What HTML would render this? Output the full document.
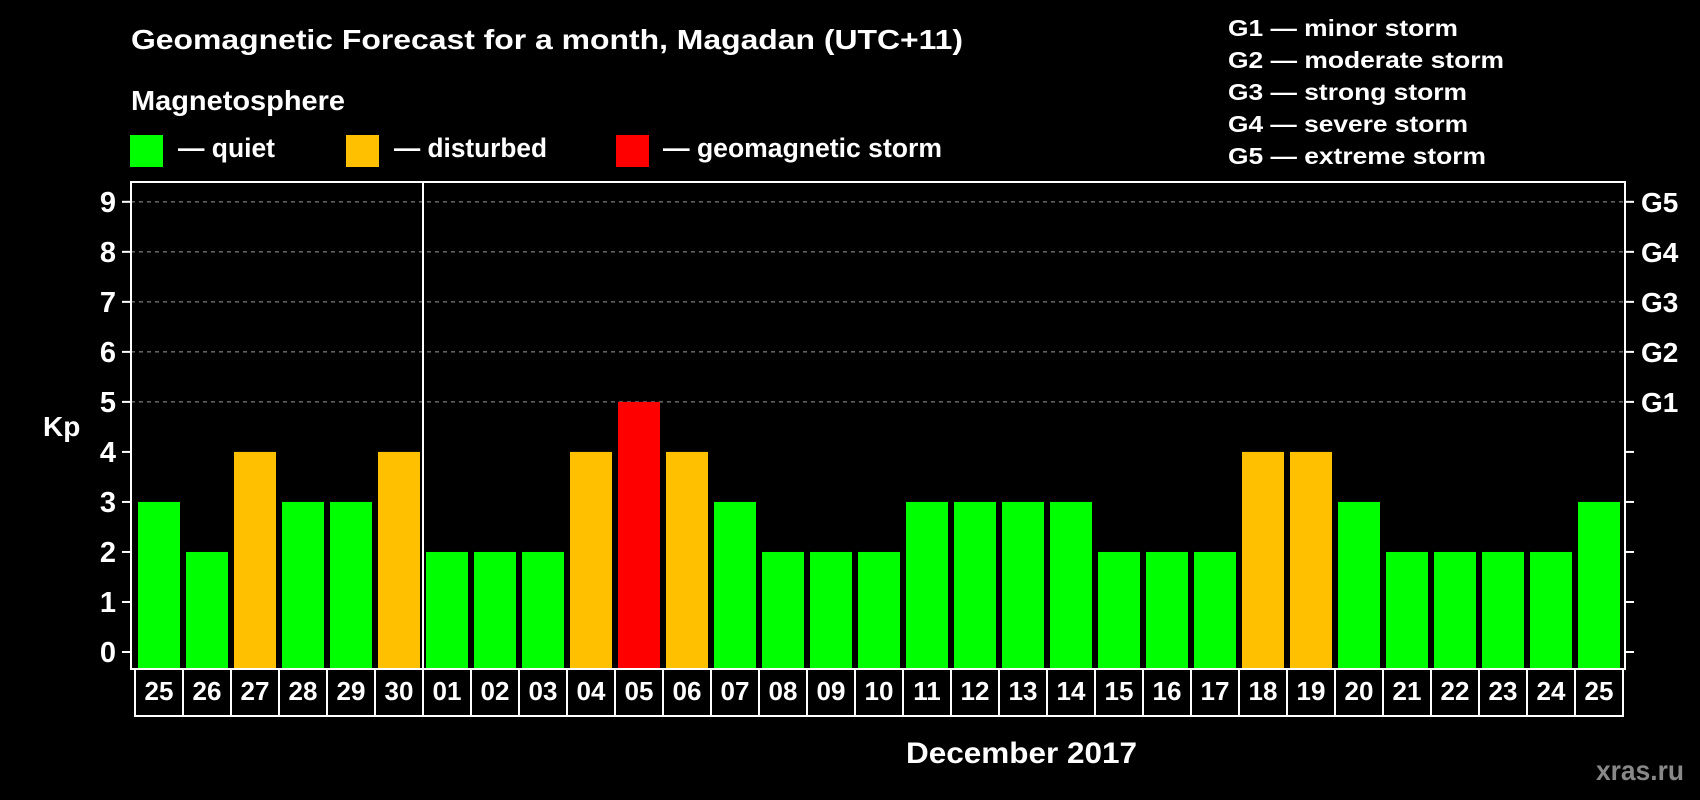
<!DOCTYPE html>
<html><head><meta charset="utf-8"><style>
html,body{margin:0;padding:0;background:#000;}
svg{display:block;font-family:"Liberation Sans",Arial,sans-serif;font-weight:bold;}
</style></head><body>
<svg id="chart" width="1700" height="800" viewBox="0 0 1700 800" xmlns="http://www.w3.org/2000/svg">
<rect width="1700" height="800" fill="#000"/>
<text x="131" y="49" font-size="28" fill="#fff" textLength="832" lengthAdjust="spacingAndGlyphs">Geomagnetic Forecast for a month, Magadan (UTC+11)</text>
<text x="131" y="110" font-size="28" fill="#fff" textLength="214" lengthAdjust="spacingAndGlyphs">Magnetosphere</text>
<g><rect x="130" y="135" width="33" height="32" fill="#00ff00"/><text x="178" y="157" font-size="27" fill="#fff" textLength="97" lengthAdjust="spacingAndGlyphs">— quiet</text></g>
<g><rect x="346" y="135" width="33" height="32" fill="#ffc000"/><text x="394" y="157" font-size="27" fill="#fff" textLength="153" lengthAdjust="spacingAndGlyphs">— disturbed</text></g>
<g><rect x="616" y="135" width="33" height="32" fill="#ff0000"/><text x="663" y="157" font-size="27" fill="#fff" textLength="279" lengthAdjust="spacingAndGlyphs">— geomagnetic storm</text></g>
<g font-size="23" fill="#fff">
<text x="1228" y="36" textLength="230" lengthAdjust="spacingAndGlyphs">G1 — minor storm</text>
<text x="1228" y="68" textLength="276" lengthAdjust="spacingAndGlyphs">G2 — moderate storm</text>
<text x="1228" y="100" textLength="239" lengthAdjust="spacingAndGlyphs">G3 — strong storm</text>
<text x="1228" y="132" textLength="240" lengthAdjust="spacingAndGlyphs">G4 — severe storm</text>
<text x="1228" y="164" textLength="258" lengthAdjust="spacingAndGlyphs">G5 — extreme storm</text>
</g>
<text x="43" y="436" font-size="28" fill="#fff">Kp</text>
<text x="906" y="763" font-size="30" fill="#fff" textLength="231" lengthAdjust="spacingAndGlyphs">December 2017</text>
<text x="1596" y="780" font-size="28" fill="#888" textLength="88" lengthAdjust="spacingAndGlyphs">xras.ru</text>
<g id="plot"></g>
</svg>
<script>
const days = ["25","26","27","28","29","30","01","02","03","04","05","06","07","08","09","10","11","12","13","14","15","16","17","18","19","20","21","22","23","24","25"];
const kp = [3,2,4,3,3,4,2,2,2,4,5,4,3,2,2,2,3,3,3,3,2,2,2,4,4,3,2,2,2,2,3];
const yTicks = [0,1,2,3,4,5,6,7,8,9];
const gLevels = [5,6,7,8,9];
const gLabels = ["G1","G2","G3","G4","G5"];
const monthBreakIndex = 6;

const NS = "http://www.w3.org/2000/svg";
const plot = document.getElementById("plot");
const L = 131, R = 1625, T = 182, B = 669;
const y = v => 652 - v * 50.02;
const xStart = i => 138 + i * 48;
const barW = 42;
function mk(tag, attrs) { const e = document.createElementNS(NS, tag); for (const k in attrs) e.setAttribute(k, attrs[k]); plot.appendChild(e); return e; }

gLevels.forEach((v) => {
  const g = mk("line", {x1: L, x2: R, y1: y(v), y2: y(v), stroke: "#999", "stroke-width": 1, "stroke-dasharray": "4,4"});
  
  
});
yTicks.forEach(v => {
  const t1 = mk("line", {x1: 122, x2: L, y1: y(v), y2: y(v), stroke: "#fff", "stroke-width": 2});
  
  
  const t2 = mk("line", {x1: R, x2: 1634, y1: y(v), y2: y(v), stroke: "#fff", "stroke-width": 2});
  
  
  const lb = mk("text", {x: 116, y: y(v) + 10, "font-size": 29, fill: "#fff", "text-anchor": "end"});
  lb.textContent = v;
  
  
});
gLevels.forEach((v, i) => {
  const lb = mk("text", {x: 1641, y: y(v) + 10, "font-size": 28, fill: "#fff"});
  lb.textContent = gLabels[i];
  
  
});
kp.forEach((v, i) => {
  const c = v >= 5 ? "#ff0000" : (v >= 4 ? "#ffc000" : "#00ff00");
  const b = mk("rect", {x: xStart(i), y: y(v), width: barW, height: B - y(v), fill: c});
  
  
  const cell = mk("rect", {x: 135 + i * 48, y: 669, width: 48, height: 47, fill: "none", stroke: "#fff", "stroke-width": 2});
  
  
  const t = mk("text", {x: 159 + i * 48, y: 700, "font-size": 26, fill: "#fff", "text-anchor": "middle"});
  t.textContent = days[i];
  
  
});
const frame = mk("rect", {x: L, y: T, width: R - L, height: B - T, fill: "none", stroke: "#fff", "stroke-width": 2});


const mx = xStart(monthBreakIndex) - 3;
const br = mk("line", {x1: mx, x2: mx, y1: T, y2: B, stroke: "#fff", "stroke-width": 2});


</script>
</body></html>
